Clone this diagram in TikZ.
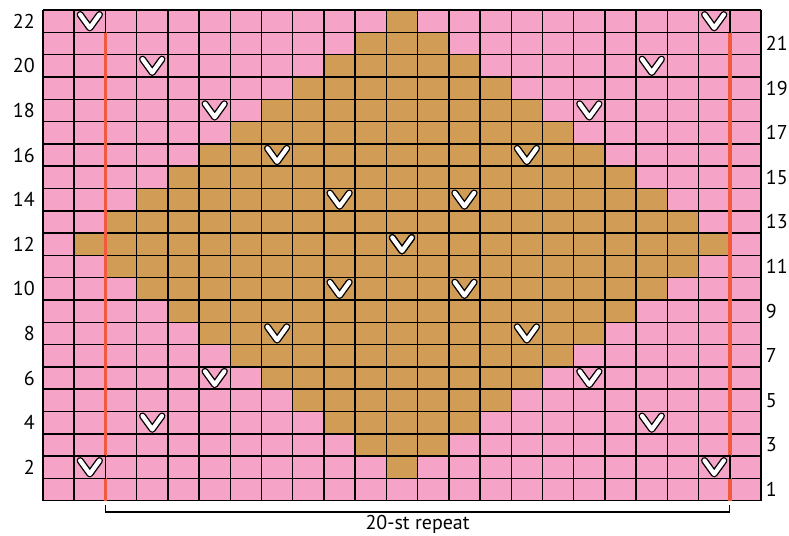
\documentclass[tikz,border=0pt]{standalone}
\usepackage{fontspec}
\setmainfont{PT Sans}
\usetikzlibrary{positioning}

\definecolor{chartpink}{RGB}{245,163,199}
\definecolor{charttan}{RGB}{209,157,86}
\definecolor{repeatred}{RGB}{241,90,58}

\tikzset{
  gridline/.style={black, line width=1.5pt},
  repline/.style={repeatred, line width=3.8pt},
  bracketline/.style={black, line width=1.2pt},
  rownum/.style={font=\fontsize{20}{20}\selectfont, inner sep=0pt},
  slipmark/.pic={
    \draw[black, line width=7pt, line cap=round, line join=round] (-0.31,0.3) -- (0,-0.3) -- (0.31,0.3);
    \draw[white, line width=4.3pt, line cap=round, line join=round] (-0.31,0.3) -- (0,-0.3) -- (0.31,0.3);
  }
}

\begin{document}
\begin{tikzpicture}[x=31.2174pt, y=22.3pt]
    \useasboundingbox (-1.377,-1.538) rectangle (23.896,22.453);

    % background and diamond
    \fill[chartpink] (0,0) rectangle (23,22);
    \foreach \r in {2,...,22}{
        \pgfmathtruncatemacro{\d}{abs(\r-12)}
        \pgfmathtruncatemacro{\lo}{1+\d}
        \pgfmathtruncatemacro{\hi}{22-\d}
        \fill[charttan] (\lo,\r-1) rectangle (\hi,\r);
    }
    \draw[gridline, step=1] (0,0) grid (23,22);

    % repeat lines
    \draw[repline] (2,0) -- (2,1);
    \draw[repline] (2,2) -- (2,21);
    \draw[repline] (22,0) -- (22,1);
    \draw[repline] (22,2) -- (22,21);
    \draw[gridline] (1,1) rectangle (2,2);
    \draw[gridline] (21,1) rectangle (22,2);
    \draw[gridline] (1,21) rectangle (2,22);
    \draw[gridline] (21,21) rectangle (22,22);

    % slipped stitches
    \foreach \r in {2,4,...,22}{
        \pgfmathtruncatemacro{\d}{abs(\r-12)}
        \pic at (11.5-\d,\r-0.5) {slipmark};
        \pic at (11.5+\d,\r-0.5) {slipmark};
    }

    % row numbers
    \foreach \r in {2,4,...,22}
        \node[rownum, anchor=east] (row\r) at (-0.26,\r-0.5) {\r};
    \foreach \r in {1,3,...,21}
        \node[rownum, anchor=west] (row\r) at (23.15,\r-0.5) {\r};

    % repeat bracket
    \coordinate (repTL) at (2,-0.19);
    \coordinate (repBL) at (2,-0.507);
    \coordinate (repBR) at (22,-0.507);
    \coordinate (repTR) at (22,-0.19);
    \draw[bracketline] (repTL) -- (repBL) -- (repBR) -- (repTR);
    \node[rownum] (replabel) at (12,-1.04) {20-st repeat};
\end{tikzpicture}
\end{document}
